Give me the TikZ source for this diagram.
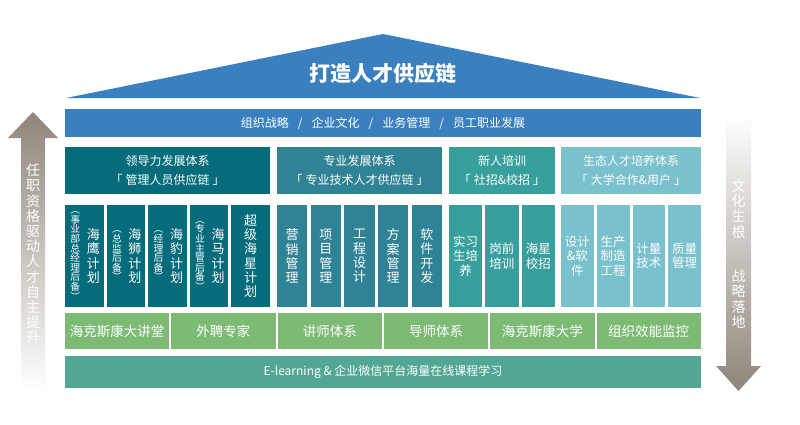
\documentclass[tikz,border=0pt]{standalone}
\usepackage{fontspec}
\setmainfont{Noto Sans CJK SC}
\definecolor{topblue}{HTML}{3A80BF}
\definecolor{gone}{HTML}{066C7C}
\definecolor{gtwo}{HTML}{2F8394}
\definecolor{gthree}{HTML}{37A09D}
\definecolor{gfour}{HTML}{79C1CD}
\definecolor{gband}{HTML}{7DBB75}
\definecolor{elearn}{HTML}{52A792}
\definecolor{arrowc}{HTML}{8E857A}
\begin{document}
\begin{tikzpicture}[x=1pt,y=-1pt,
  blk/.style={anchor=north west, inner sep=0pt, outer sep=0pt, text=white},
  hdr/.style={blk, minimum height=47pt, align=center, font=\fontsize{12}{19}\selectfont},
  colbox/.style={blk, minimum height=102pt, align=center},
  vt/.style={text=white, align=center, inner sep=0pt, font=\fontsize{13}{14.3}\selectfont},
  ptx/.style={text=white, align=center, inner sep=0pt, font=\fontsize{9.8}{9.6}\selectfont},
  htx/.style={font=\fontsize{12.5}{14.5}\selectfont},
  band/.style={blk, fill=gband, minimum width=104.3pt, minimum height=36pt, font=\fontsize{13.5}{14}\selectfont},
  arrtext/.style={text=white, align=center, inner sep=0pt, font=\fontsize{14}{15.2}\selectfont},
]
\fill[white] (0,0) rectangle (800,424);
\useasboundingbox (0,0) rectangle (800,424);

% roof
\path[fill=topblue] (66,98) -- (383,34) -- (700,98) -- cycle;
\node[text=white, inner sep=0pt, font=\fontsize{21}{21}\selectfont\bfseries] (title) at (383,73) {打造人才供应链};
\node[blk, fill=topblue, minimum width=636pt, minimum height=28pt, font=\fontsize{12}{12}\selectfont] (strat) at (65,109)
  {组织战略\hspace{9pt}/\hspace{9pt}企业文化\hspace{9pt}/\hspace{9pt}业务管理\hspace{9pt}/\hspace{9pt}员工职业发展};

% headers
\node[hdr, fill=gone, minimum width=205pt] (h1) at (65,147) {领导力发展体系\\「\hspace{3pt}管理人员供应链\hspace{3pt}」};
\node[hdr, fill=gtwo, minimum width=165pt] (h2) at (277,147) {专业发展体系\\「\hspace{3pt}专业技术人才供应链\hspace{3pt}」};
\node[hdr, fill=gthree, minimum width=106pt] (h3) at (449,147) {新人培训\\「\hspace{3pt}社招\&校招\hspace{3pt}」};
\node[hdr, fill=gfour, minimum width=140pt] (h4) at (561,147) {生态人才培养体系\\「\hspace{3pt}大学合作\&用户\hspace{3pt}」};

% group 1 columns
\foreach \x [count=\i] in {65,106.6,148.2,189.8,231.4}
  \node[colbox, fill=gone, minimum width=38.6pt] (ga\i) at (\x,205) {};
\node[vt] (ga1m) at ([xshift=9pt]ga1.center) {海\\鹰\\计\\划};
\node[ptx] (ga1p) at ([xshift=-9pt]ga1.center) {︵\\事\\业\\部\\总\\经\\理\\后\\备\\︶};
\node[vt] (ga2m) at ([xshift=9pt]ga2.center) {海\\狮\\计\\划};
\node[ptx] (ga2p) at ([xshift=-9pt]ga2.center) {︵\\总\\监\\后\\备\\︶};
\node[vt] (ga3m) at ([xshift=9pt]ga3.center) {海\\豹\\计\\划};
\node[ptx] (ga3p) at ([xshift=-9pt]ga3.center) {︵\\经\\理\\后\\备\\︶};
\node[vt] (ga4m) at ([xshift=9pt]ga4.center) {海\\马\\计\\划};
\node[ptx] (ga4p) at ([xshift=-9pt]ga4.center) {︵\\专\\业\\主\\管\\后\\备\\︶};
\node[vt] (ga5m) at (ga5.center) {超\\级\\海\\星\\计\\划};

% group 2 columns
\node[colbox, vt, blk, fill=gtwo, minimum width=30.2pt, minimum height=102pt] (gb1) at (277,205) {营\\销\\管\\理};
\node[colbox, vt, blk, fill=gtwo, minimum width=30.2pt, minimum height=102pt] (gb2) at (310.7,205) {项\\目\\管\\理};
\node[colbox, vt, blk, fill=gtwo, minimum width=30.2pt, minimum height=102pt] (gb3) at (344.4,205) {工\\程\\设\\计};
\node[colbox, vt, blk, fill=gtwo, minimum width=30.2pt, minimum height=102pt] (gb4) at (378.1,205) {方\\案\\管\\理};
\node[colbox, vt, blk, fill=gtwo, minimum width=30.2pt, minimum height=102pt] (gb5) at (411.8,205) {软\\件\\开\\发};

% group 3 columns
\node[colbox, htx, fill=gthree, minimum width=33.3pt] (gc1) at (449,205) {实习\\生培\\养};
\node[colbox, htx, fill=gthree, minimum width=33.3pt] (gc2) at (485.3,205) {岗前\\培训};
\node[colbox, htx, fill=gthree, minimum width=33.3pt] (gc3) at (521.6,205) {海星\\校招};

% group 4 columns
\node[colbox, htx, fill=gfour, minimum width=32.75pt] (gd1) at (561,205) {设计\\\&软\\件};
\node[colbox, htx, fill=gfour, minimum width=32.75pt] (gd2) at (596.75,205) {生产\\制造\\工程};
\node[colbox, htx, fill=gfour, minimum width=32.75pt] (gd3) at (632.5,205) {计量\\技术};
\node[colbox, htx, fill=gfour, minimum width=32.75pt] (gd4) at (668.25,205) {质量\\管理};

% green band
\node[band] (b1) at (65,313) {海克斯康大讲堂};
\node[band] (b2) at (171.3,313) {外聘专家};
\node[band] (b3) at (277.6,313) {讲师体系};
\node[band] (b4) at (383.9,313) {导师体系};
\node[band] (b5) at (490.2,313) {海克斯康大学};
\node[band] (b6) at (596.5,313) {组织效能监控};

% e-learning bar
\node[blk, fill=elearn, minimum width=636pt, minimum height=32pt, font=\fontsize{12}{12}\selectfont] (el) at (65,356)
  {E-learning \& 企业微信平台海量在线课程学习};

% left arrow
\path[top color=arrowc, middle color=arrowc!70!white, bottom color=white]
  (21,390) -- (21,138) -- (8,138) -- (33,112) -- (58,138) -- (45,138) -- (45,390) -- cycle;
\node[arrtext] (lt) at (33,254) {任\\职\\资\\格\\驱\\动\\人\\才\\自\\主\\提\\升};

% right arrow
\path[top color=white, middle color=arrowc!70!white, bottom color=arrowc]
  (726,115) -- (726,366) -- (716,366) -- (738.5,391) -- (761,366) -- (751,366) -- (751,115) -- cycle;
\node[arrtext] (rt1) at (738.5,209) {文\\化\\生\\根};
\node[arrtext] (rt2) at (738.5,299) {战\\略\\落\\地};
\end{tikzpicture}
\end{document}
